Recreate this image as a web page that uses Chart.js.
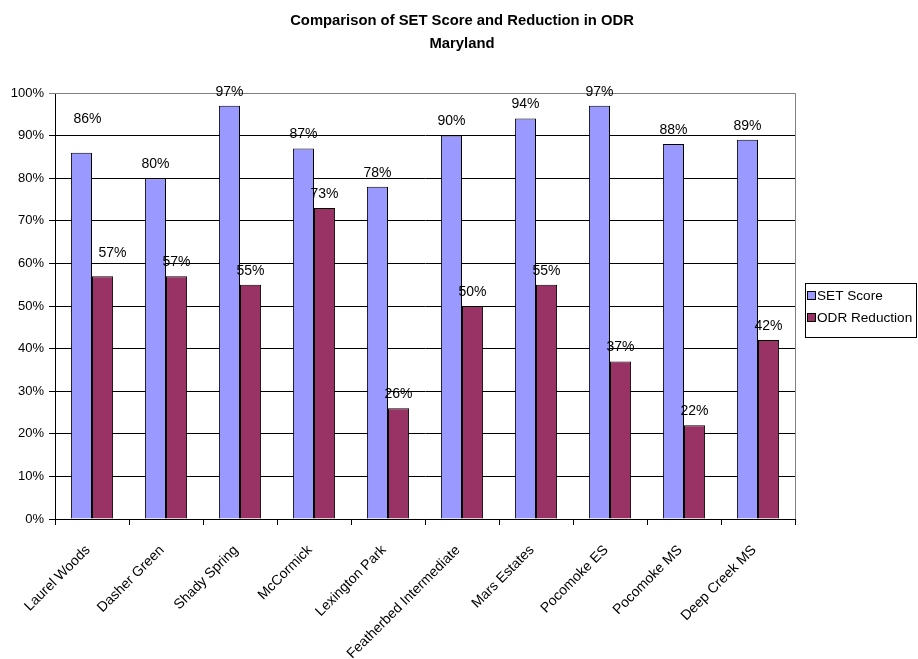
<!DOCTYPE html>
<html>
<head>
<meta charset="utf-8">
<script src="https://cdn.jsdelivr.net/npm/chart.js@4/dist/chart.umd.min.js"></script>
<style>
html,body{margin:0;padding:0;background:#fff;}
#wrap{width:918px;height:659px;position:relative;}
</style>
</head>
<body>
<div id="wrap"><canvas id="c" width="918" height="659"></canvas></div>
<script>
const categories = ["Laurel Woods","Dasher Green","Shady Spring","McCormick","Lexington Park","Featherbed Intermediate","Mars Estates","Pocomoke ES","Pocomoke MS","Deep Creek MS"];
const setScore = [86,80,97,87,78,90,94,97,88,89];
const odrReduction = [57,57,55,73,26,50,55,37,22,42];
const seriesNames = ["SET Score","ODR Reduction"];
const titleLines = ["Comparison of SET Score and Reduction in ODR","Maryland"];

// label nudges (style only) for the overlapping Excel labels of the first group
const labelNudge = [[[6,-19]],[[10,-9]]];

const FONT = "'Liberation Sans', Arial, sans-serif";

const plotDecor = {
  id: 'plotDecor',
  afterDatasetsDraw(chart) {
    const ctx = chart.ctx, a = chart.chartArea;
    ctx.save();
    // title
    ctx.fillStyle = '#000';
    ctx.textAlign = 'center';
    ctx.textBaseline = 'middle';
    ctx.font = 'bold 14.8px ' + FONT;
    titleLines.forEach((t, i) => ctx.fillText(t, 462, 21 + i * 23));
    // gray plot border top/right
    ctx.strokeStyle = '#808080';
    ctx.lineWidth = 1;
    ctx.beginPath();
    ctx.moveTo(a.left, Math.round(a.top)+0.5);
    ctx.lineTo(Math.round(a.right)+0.5, Math.round(a.top)+0.5);
    ctx.lineTo(Math.round(a.right)+0.5, Math.round(a.bottom));
    ctx.stroke();
    // data labels
    ctx.font = '14px ' + FONT;
    ctx.fillStyle = '#000';
    chart.data.datasets.forEach((ds, di) => {
      const meta = chart.getDatasetMeta(di);
      meta.data.forEach((bar, i) => {
        let dx = 0, dy = 0;
        const n = labelNudge[di] && labelNudge[di][i];
        if (n) { dx = n[0]; dy = n[1]; }
        ctx.fillText(ds.data[i] + '%', bar.x + dx, bar.y - 14 + dy);
      });
    });
    // legend
    const lx = 805, ly = 283, lw = 111, lh = 54;
    ctx.fillStyle = '#fff';
    ctx.fillRect(lx, ly, lw, lh);
    ctx.strokeStyle = '#000';
    ctx.strokeRect(lx + 0.5, ly + 0.5, lw, lh);
    ctx.textAlign = 'left';
    ctx.font = '13.6px ' + FONT;
    chart.data.datasets.forEach((ds, di) => {
      const cy = ly + 13 + di * 22;
      ctx.fillStyle = ds.backgroundColor;
      ctx.fillRect(808, cy - 4, 7, 7);
      ctx.strokeStyle = '#000';
      ctx.strokeRect(807.5, cy - 4.5, 8, 8);
      ctx.fillStyle = '#000';
      ctx.fillText(ds.label, 817, cy);
    });
    ctx.restore();
  }
};

new Chart(document.getElementById('c'), {
  type: 'bar',
  data: {
    labels: categories,
    datasets: [
      { label: seriesNames[0], data: setScore, backgroundColor: '#9999FF', borderColor: '#000', borderWidth: 1, barPercentage: 1, categoryPercentage: 0.57 },
      { label: seriesNames[1], data: odrReduction, backgroundColor: '#993366', borderColor: '#000', borderWidth: 1, barPercentage: 1, categoryPercentage: 0.57 }
    ]
  },
  options: {
    responsive: false,
    animation: false,
    devicePixelRatio: 1,
    layout: { padding: { left: 0, right: 123, top: 93, bottom: 0 } },
    plugins: {
      legend: { display: false },
      tooltip: { enabled: false },
      title: { display: false }
    },
    scales: {
      x: {
        offset: true,
        grid: { display: true, drawOnChartArea: false, drawTicks: true, tickLength: 6, offset: true, color: '#000' },
        border: { display: true, color: '#000', width: 1 },
        ticks: { color: '#000', font: { family: FONT, size: 14 }, minRotation: 45, maxRotation: 45, autoSkip: false, padding: 17, labelOffset: -4 },
        afterFit(s) { s.height = 140; }
      },
      y: {
        min: 0, max: 100,
        ticks: { stepSize: 10, color: '#000', font: { family: FONT, size: 13 }, padding: 5, callback: v => v + '%' },
        grid: { color: ctx => (ctx.tick && ctx.tick.value === 100) ? '#808080' : '#000', tickLength: 6, drawTicks: true },
        border: { display: true, color: '#000', width: 1 },
        afterFit(s) { s.width = 55; }
      }
    }
  },
  plugins: [plotDecor]
});
</script>
</body>
</html>
